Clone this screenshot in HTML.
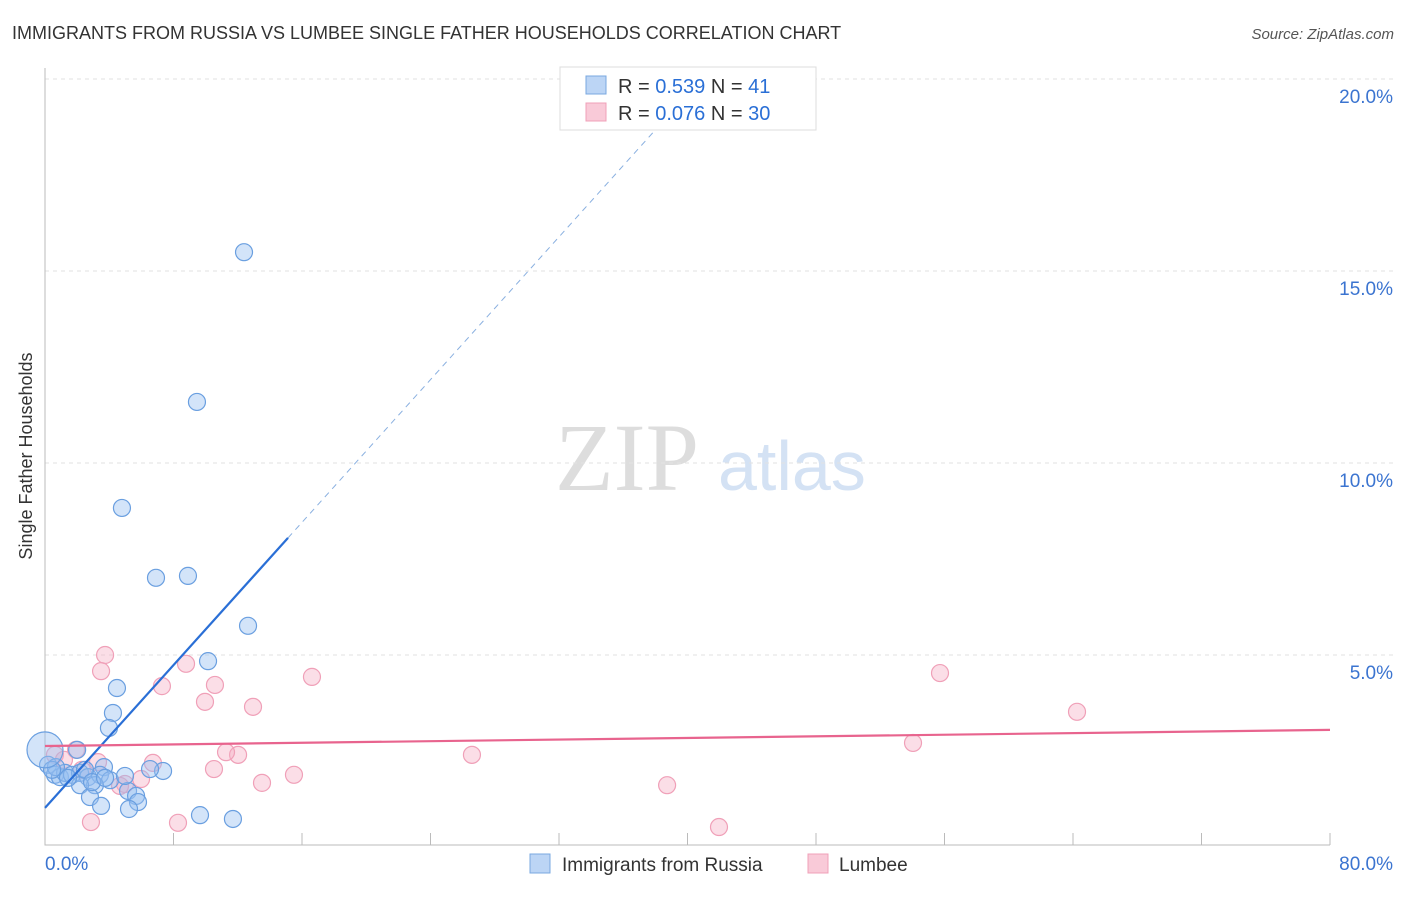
<!DOCTYPE html>
<html><head><meta charset="utf-8"><style>
body{margin:0;background:#fff;font-family:"Liberation Sans",sans-serif;}
</style></head><body>
<svg width="1406" height="892" xmlns="http://www.w3.org/2000/svg" id="chart">
<text x="12" y="39" font-size="18" fill="#333">IMMIGRANTS FROM RUSSIA VS LUMBEE SINGLE FATHER HOUSEHOLDS CORRELATION CHART</text>
<text x="1394" y="39" font-size="15" fill="#555" text-anchor="end" font-style="italic">Source: ZipAtlas.com</text>
<text x="32" y="456" font-size="18" fill="#333" text-anchor="middle" transform="rotate(-90 32 456)">Single Father Households</text>
<text x="555" y="490" font-size="96" fill="#ddd" font-family="Liberation Serif">ZIP</text>
<text x="718" y="490" font-size="70" fill="#d4e2f4">atlas</text>
<g id="grid"></g><g id="marks"></g>
<g>
<rect x="560" y="67" width="256" height="63" fill="#fff" stroke="#ddd"/>
<rect x="586" y="76" width="20" height="18" fill="#bcd5f5" stroke="#7aa8e0"/>
<text x="618" y="93" font-size="20" fill="#333">R = <tspan fill="#2a6fd6">0.539</tspan>   N =  <tspan fill="#2a6fd6">41</tspan></text>
<rect x="586" y="103" width="20" height="18" fill="#f9cad8" stroke="#f0a0b8"/>
<text x="618" y="120" font-size="20" fill="#333">R = <tspan fill="#2a6fd6">0.076</tspan>   N = <tspan fill="#2a6fd6">30</tspan></text>
</g>
<g>
<rect x="530" y="854" width="20" height="19" fill="#bcd5f5" stroke="#7aa8e0"/>
<text x="562" y="871" font-size="19" fill="#333">Immigrants from Russia</text>
<rect x="808" y="854" width="20" height="19" fill="#f9cad8" stroke="#f0a0b8"/>
<text x="839" y="871" font-size="19" fill="#333">Lumbee</text>
</g>
</svg>
<script>
const yTicks=[5,10,15,20];
const yTickLabels=["5.0%","10.0%","15.0%","20.0%"];
const xTickLabels=["0.0%","80.0%"];
const russiaX=[12.39,9.46,4.79,6.91,8.90,12.64,10.15,4.48,4.23,3.98,2.00,3.67,7.35,6.54,0.19,0.62,0.93,1.25,1.68,2.18,2.68,3.42,4.05,3.11,2.18,2.80,5.17,5.67,5.79,3.49,5.23,9.65,11.70,0.68,0.44,1.43,2.49,2.93,3.74,4.98,0.0];
const russiaY=[15.49,11.59,8.83,7.01,7.06,5.76,4.84,4.14,3.49,3.10,2.53,2.08,1.98,2.03,2.14,1.88,1.82,1.93,1.88,1.93,1.82,1.88,1.74,1.61,1.61,1.30,1.46,1.33,1.17,1.07,0.99,0.83,0.73,2.08,2.01,1.80,2.01,1.69,1.80,1.85,2.53];
const lumbeeX=[3.74,3.49,8.78,7.28,10.58,9.96,12.95,16.62,55.72,64.25,54.04,26.58,6.72,12.02,11.27,10.52,15.50,13.51,5.98,4.98,2.86,8.28,38.73,41.96,1.93,0.62,2.30,1.18,3.30,4.67];
const lumbeeY=[5.0,4.58,4.77,4.19,4.22,3.78,3.65,4.43,4.53,3.52,2.71,2.40,2.19,2.40,2.47,2.03,1.88,1.67,1.77,1.64,0.65,0.63,1.61,0.52,2.53,2.40,2.01,2.27,2.21,1.59];
const russiaFit=[[0,1.02],[15.13,8.05],[38.7,19.0]];
const lumbeeFit=[[0,2.63],[80,3.05]];
const X=v=>45+v/80*1285, Y=v=>847-v*38.4;
const NS="http://www.w3.org/2000/svg";
const grid=document.getElementById('grid'), marks=document.getElementById('marks');
function mk(tag,attrs,parent){const e=document.createElementNS(NS,tag);for(const k in attrs)e.setAttribute(k,attrs[k]);parent.appendChild(e);return e;}
yTicks.forEach((t,i)=>{
 const l=mk('line',{x1:45,x2:1394,y1:Y(t),y2:Y(t),stroke:'#e2e2e2','stroke-dasharray':'4,4'},grid);
 
 
 const tx=mk('text',{x:1393,y:Y(t)+24,'font-size':19,fill:'#3b74d0','text-anchor':'end'},grid);
 tx.textContent=yTickLabels[i];
 
 
});
const ax=mk('path',{d:'M45 68V845H1330',stroke:'#bbb',fill:'none'},grid);


for(let k=1;k<=10;k++){const t=mk('line',{x1:45+128.5*k,x2:45+128.5*k,y1:833,y2:845,stroke:'#bbb'},grid);
 
 }
[[0,45,'start'],[80,1393,'end']].forEach((a,i)=>{const t=mk('text',{x:a[1],y:870,'font-size':19,fill:'#3b74d0','text-anchor':a[2]},grid);t.textContent=xTickLabels[i];
 
 });
lumbeeX.forEach((v,i)=>{const c=mk('circle',{cx:X(v),cy:Y(lumbeeY[i]),r:8.5,fill:'rgba(246,172,196,0.4)',stroke:'#f0a0b8','stroke-width':1.2},marks);
 
 });
russiaX.forEach((v,i)=>{const c=mk('circle',{cx:X(v),cy:Y(russiaY[i]),r:i==40?18:8.5,fill:'rgba(150,190,240,0.42)',stroke:'#6a9fe0','stroke-width':1.2},marks);
 
 });
const b1=mk('line',{x1:X(russiaFit[0][0]),y1:Y(russiaFit[0][1]),x2:X(russiaFit[1][0]),y2:Y(russiaFit[1][1]),stroke:'#2a6fd6','stroke-width':2.2},marks);


const b2=mk('line',{x1:X(russiaFit[1][0]),y1:Y(russiaFit[1][1]),x2:X(russiaFit[2][0]),y2:Y(russiaFit[2][1]),stroke:'#8ab0e0','stroke-width':1,'stroke-dasharray':'6,5'},marks);


const p1=mk('line',{x1:X(lumbeeFit[0][0]),y1:Y(lumbeeFit[0][1]),x2:X(lumbeeFit[1][0]),y2:Y(lumbeeFit[1][1]),stroke:'#e8648e','stroke-width':2.2},marks);


</script>
</body></html>
